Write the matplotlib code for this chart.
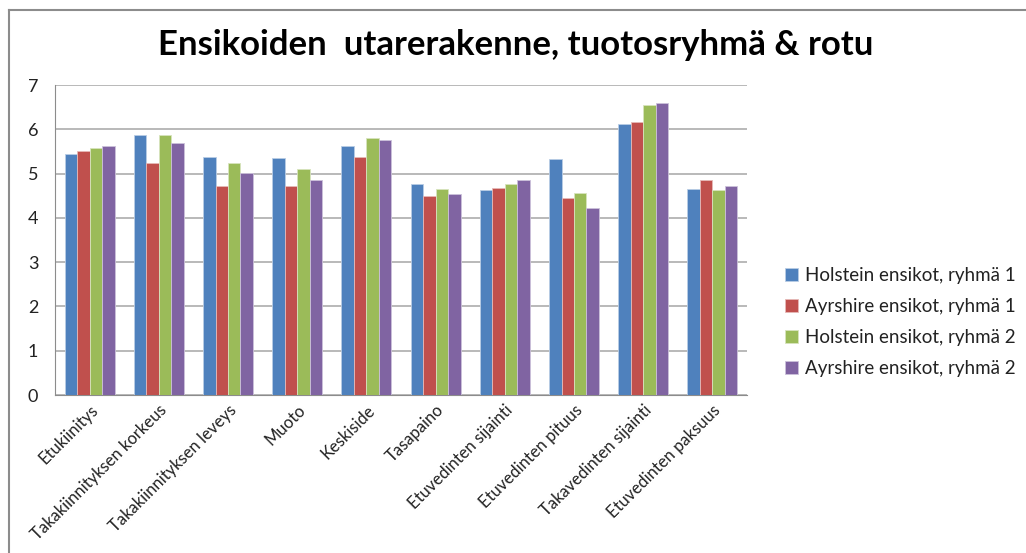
import matplotlib
matplotlib.use("Agg")
import matplotlib.pyplot as plt
import numpy as np
from matplotlib.lines import Line2D

categories = ["Etukiinitys", "Takakiinnityksen korkeus", "Takakiinnityksen leveys",
              "Muoto", "Keskiside", "Tasapaino", "Etuvedinten sijainti",
              "Etuvedinten pituus", "Takavedinten sijainti", "Etuvedinten paksuus"]
series_names = ["Holstein ensikot, ryhmä 1", "Ayrshire ensikot, ryhmä 1",
                "Holstein ensikot, ryhmä 2", "Ayrshire ensikot, ryhmä 2"]
holstein_1 = [5.44, 5.86, 5.37, 5.35, 5.63, 4.77, 4.64, 5.33, 6.12, 4.65]
ayrshire_1 = [5.50, 5.23, 4.71, 4.73, 5.38, 4.50, 4.67, 4.44, 6.16, 4.85]
holstein_2 = [5.58, 5.86, 5.25, 5.10, 5.81, 4.65, 4.77, 4.57, 6.55, 4.62]
ayrshire_2 = [5.62, 5.68, 5.02, 4.86, 5.75, 4.53, 4.86, 4.23, 6.60, 4.71]
title = "Ensikoiden  utarerakenne, tuotosryhmä & rotu"
yticks = [0, 1, 2, 3, 4, 5, 6, 7]

colors = ["#4F81BD", "#C0504D", "#9BBB59", "#8064A2"]
edges = ["#B9CDE5", "#E6B9B8", "#D7E4BD", "#CCC1DA"]

plt.rcParams['font.family'] = ['Lato', 'DejaVu Sans']

W, H = 1026, 553
fig = plt.figure(figsize=(W / 100, H / 100), dpi=100)
ax = fig.add_axes([55 / W, 1 - 395 / H, (747 - 55) / W, (395 - 85) / H])

data = [holstein_1, ayrshire_1, holstein_2, ayrshire_2]
x = np.arange(len(categories))
bw = 0.18
handles = []
for i, (vals, c, ec, name) in enumerate(zip(data, colors, edges, series_names)):
    b = ax.bar(x + (i - 1.5) * bw, vals, width=bw, color=c, edgecolor=ec,
               linewidth=0.6, label=name, zorder=3)
    handles.append(b)

ax.set_xlim(-0.5, len(categories) - 0.5)
ax.set_ylim(0, 7)
ax.set_yticks(yticks)
ax.set_yticklabels([str(t) for t in yticks], fontsize=13, color="#222222")
ax.yaxis.grid(True, color="#A6A6A6", linewidth=1.1, zorder=0)
ax.set_axisbelow(True)
for s in ["top", "right"]:
    ax.spines[s].set_visible(False)
ax.spines["left"].set_color("#8C8C8C")
ax.spines["bottom"].set_color("#8C8C8C")
ax.tick_params(axis="y", length=0, pad=12)
ax.tick_params(axis="x", length=0, pad=5)
ax.set_xticks(x)
ax.set_xticklabels(categories, rotation=45, ha="right", va="top",
                   rotation_mode="anchor", fontsize=12, color="#222222")

fig.text(516 / W, 1 - 45 / H, title, fontsize=25, fontweight="bold",
         ha="center", va="center", color="#000000")

leg = fig.legend(handles=handles, labels=series_names, loc="upper left",
                 bbox_to_anchor=(768 / W, 1 - 250 / H), frameon=False,
                 fontsize=13.5, handlelength=0.7, handleheight=0.7,
                 handletextpad=0.35, labelspacing=0.75)
for t in leg.get_texts():
    t.set_color("#222222")

# outer chart border (top and left visible)
fig.add_artist(Line2D([9 / W, 1.0], [1 - 10 / H, 1 - 10 / H], color="#8C8C8C",
                      linewidth=1.5, transform=fig.transFigure))
fig.add_artist(Line2D([9 / W, 9 / W], [0, 1 - 10 / H], color="#8C8C8C",
                      linewidth=1.5, transform=fig.transFigure))

fig.savefig("out.png", dpi=100, facecolor="white")
